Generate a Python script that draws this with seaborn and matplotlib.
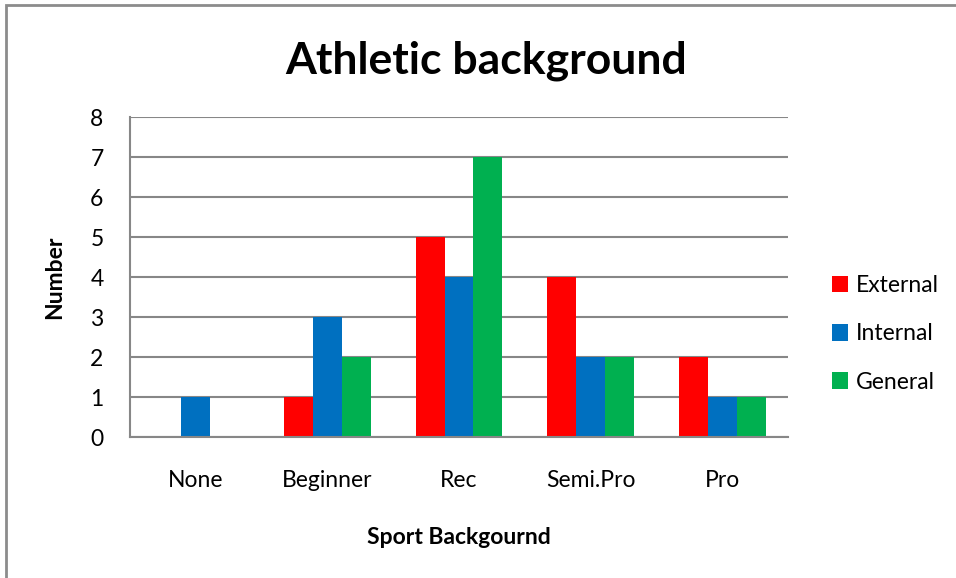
import matplotlib
matplotlib.use("Agg")
import matplotlib.pyplot as plt
import seaborn as sns
import pandas as pd
from matplotlib.patches import Rectangle, Patch

categories = ["None", "Beginner", "Rec", "Semi.Pro", "Pro"]
external = [0, 1, 5, 4, 2]
internal = [1, 3, 4, 2, 1]
general = [0, 2, 7, 2, 1]
series_names = ["External", "Internal", "General"]
colors = ["#FF0000", "#0070C0", "#00B050"]

rows = []
for name, vals in zip(series_names, [external, internal, general]):
    for c, v in zip(categories, vals):
        rows.append({"cat": c, "series": name, "value": v})
df = pd.DataFrame(rows)

sns.set_style("white")
plt.rcParams["font.family"] = ["Lato", "DejaVu Sans"]
plt.rcParams["text.color"] = "black"
plt.rcParams["axes.labelcolor"] = "black"
plt.rcParams["xtick.color"] = "black"
plt.rcParams["ytick.color"] = "black"

fig = plt.figure(figsize=(9.56, 5.78), dpi=100)
ax = fig.add_axes([130/956, 1-437/578, (788-130)/956, (437-117)/578])

sns.barplot(data=df, x="cat", y="value", hue="series", order=categories,
            hue_order=series_names, palette=colors, width=0.66, gap=0,
            linewidth=0, saturation=1, ax=ax, legend=False, errorbar=None)

ax.set_ylim(0, 8)
ax.set_yticks(range(0, 9))
ax.set_xlim(-0.5, len(categories) - 0.5)
grid_c = "#878787"
ax.yaxis.grid(True, color=grid_c, linewidth=1.5)
ax.set_axisbelow(True)
for s in ["top", "right"]:
    ax.spines[s].set_visible(False)
ax.spines["left"].set_color(grid_c)
ax.spines["left"].set_linewidth(1.5)
ax.spines["bottom"].set_color(grid_c)
ax.spines["bottom"].set_linewidth(1.5)
ax.tick_params(axis="y", length=7, width=1.5, color=grid_c, labelcolor="black",
               labelsize=16.5, pad=12)
ax.tick_params(axis="x", length=0, labelsize=16.5, labelcolor="black", pad=24)

ax.set_xlabel("Sport Backgournd", fontsize=16.5, fontweight="bold", labelpad=26)
ax.set_ylabel("Number", fontsize=16.5, fontweight="bold", labelpad=18)

fig.suptitle("Athletic background", x=0.508, y=0.93, fontsize=32, fontweight="bold")

handles = [Patch(facecolor=c, edgecolor="none") for c in colors]
fig.legend(handles, series_names, loc="center left", bbox_to_anchor=(811/956, 1-334/578),
           frameon=False, fontsize=16.5, handlelength=0.7, handleheight=0.7,
           handletextpad=0.35, labelspacing=1.18)

fig.patches.append(Rectangle((6/956, -0.1), 2, 1-5/578+0.1, transform=fig.transFigure,
                             fill=False, edgecolor="#8c8c8c", linewidth=2))

fig.savefig("out.png", dpi=100)
